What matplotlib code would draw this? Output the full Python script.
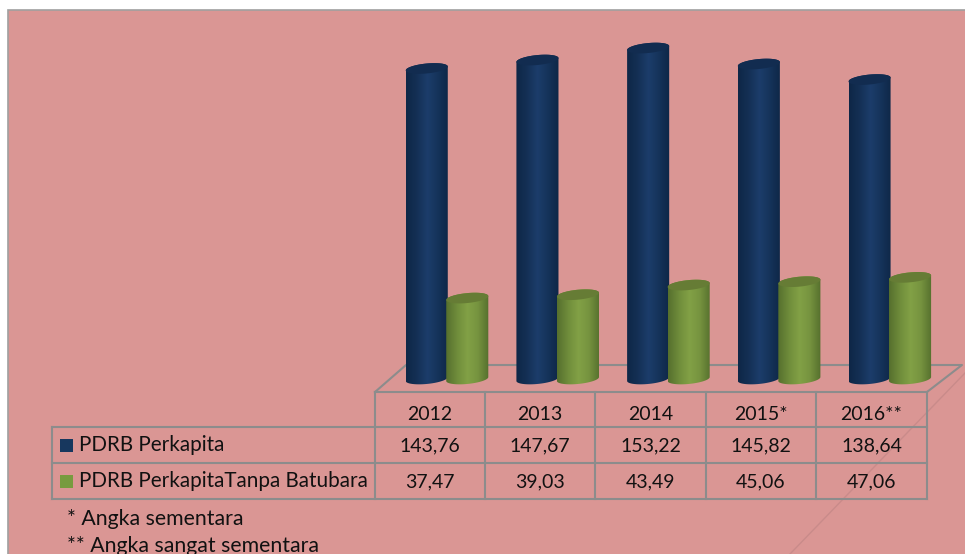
#!/usr/bin/env python3
import numpy as np
import matplotlib
matplotlib.use("Agg")
import matplotlib.pyplot as plt
from matplotlib.colors import LinearSegmentedColormap
from matplotlib.patches import Polygon, Rectangle

# Data
years = ["2012", "2013", "2014", "2015*", "2016**"]
pdrb = [143.76, 147.67, 153.22, 145.82, 138.64]
pdrb_label = ["143,76", "147,67", "153,22", "145,82", "138,64"]
tanpa = [37.47, 39.03, 43.49, 45.06, 47.06]
tanpa_label = ["37,47", "39,03", "43,49", "45,06", "47,06"]
series_names = ["PDRB Perkapita", "PDRB PerkapitaTanpa Batubara"]
notes = ["* Angka sementara", "** Angka sangat sementara"]

W, H = 965, 554
PINK = "#DA9694"
GRID = "#8C8C8C"
FONT = "Lato"
TEXT = "#111111"

blue_map = LinearSegmentedColormap.from_list("b", ["#0E2747", "#143055", "#1C3D6B", "#15335A", "#0E2747"])
green_map = LinearSegmentedColormap.from_list("g", ["#56702E", "#6F8C3B", "#82A146", "#76933F", "#56702E"])

fig = plt.figure(figsize=(W / 100, H / 100), dpi=100, facecolor="white")

# background and table live in pixel coordinates
bg = fig.add_axes([0, 0, 1, 1], zorder=0)
bg.set_xlim(0, W)
bg.set_ylim(H, 0)
bg.axis("off")
bg.add_patch(Rectangle((8, 10), W, H, fc=PINK, ec="#A0A0A0", lw=1.2))
bg.plot([790, 965], [554, 373], color="#C98B8A", lw=1.0)


def grid_line(xs, ys):
    bg.plot(xs, ys, color=GRID, lw=1.5, solid_capstyle="projecting")


col_x = [375, 485, 595, 706, 816, 927]
row_y = [392, 427, 463, 499]
row_text_y = [414, 446, 482]

# floor
grid_line([375, 406, 962, 927], [392, 365, 365, 392])

# table
grid_line([375, 927], [row_y[0], row_y[0]])
for y in row_y[1:]:
    grid_line([52, 927], [y, y])
for x in col_x:
    grid_line([x, x], [row_y[0], row_y[3]])
grid_line([52, 52], [row_y[1], row_y[3]])

for i in range(5):
    cx = (col_x[i] + col_x[i + 1]) / 2
    for row, txt in enumerate([years[i], pdrb_label[i], tanpa_label[i]]):
        bg.text(cx, row_text_y[row], txt, ha="center", va="center",
                fontsize=14, family=FONT, color=TEXT)

for row, (name, col) in enumerate(zip(series_names, ["#17375E", "#779B3F"])):
    ymid = (row_y[row + 1] + row_y[row + 2]) / 2
    bg.add_patch(Rectangle((60, ymid - 6.5), 13, 13, fc=col, ec="none"))
    bg.text(79, ymid, name, ha="left", va="center", fontsize=14.85, family=FONT, color=TEXT)

bg.text(67, 519, notes[0], ha="left", va="center", fontsize=15.3, family=FONT, color=TEXT)
bg.text(67, 546, notes[1], ha="left", va="center", fontsize=15.3, family=FONT, color=TEXT)

# chart axes: category index on x, value on y
left, right = 391.65, 945.15
y_zero, px_per_unit = 379, 2.16
y_min, y_max = -10, 170
bottom = y_zero - y_min * px_per_unit
top = y_zero - y_max * px_per_unit
ax = fig.add_axes([left / W, 1 - bottom / H, (right - left) / W, (bottom - top) / H], zorder=1)
ax.axis("off")
ax.patch.set_alpha(0)


def cylinder(x, value, cmap, cap):
    a = 0.19
    b = 2.3
    tilt = 0.9
    t = np.linspace(0, np.pi, 60)
    # upper half of the top ellipse, lower half of the base ellipse
    top_x = x + a * np.cos(t)
    top_y = value + b * np.sin(t) + tilt * np.cos(t)
    low_x = x - a * np.cos(t)
    low_y = -b * np.sin(t) - tilt * np.cos(t)
    body = Polygon(np.column_stack([np.r_[top_x, low_x], np.r_[top_y, low_y]]), fc="none", ec="none")
    ax.add_patch(body)
    im = ax.imshow(np.linspace(0, 1, 64).reshape(1, -1), cmap=cmap, aspect="auto",
                   extent=[x - a, x + a, -b - 2, value + b + 2], zorder=2)
    im.set_clip_path(body)
    full = np.linspace(0, 2 * np.pi, 120)
    ax.fill(x + a * np.cos(full), value + b * np.sin(full) + tilt * np.cos(full),
            color=cap, lw=0, zorder=3)


for i in range(len(years)):
    cylinder(i - 0.183, pdrb[i], blue_map, "#122C50")
    cylinder(i + 0.183, tanpa[i], green_map, "#667C35")

ax.set_xlim(-0.5, 4.5)
ax.set_ylim(y_min, y_max)

fig.savefig("out.png", dpi=100)
